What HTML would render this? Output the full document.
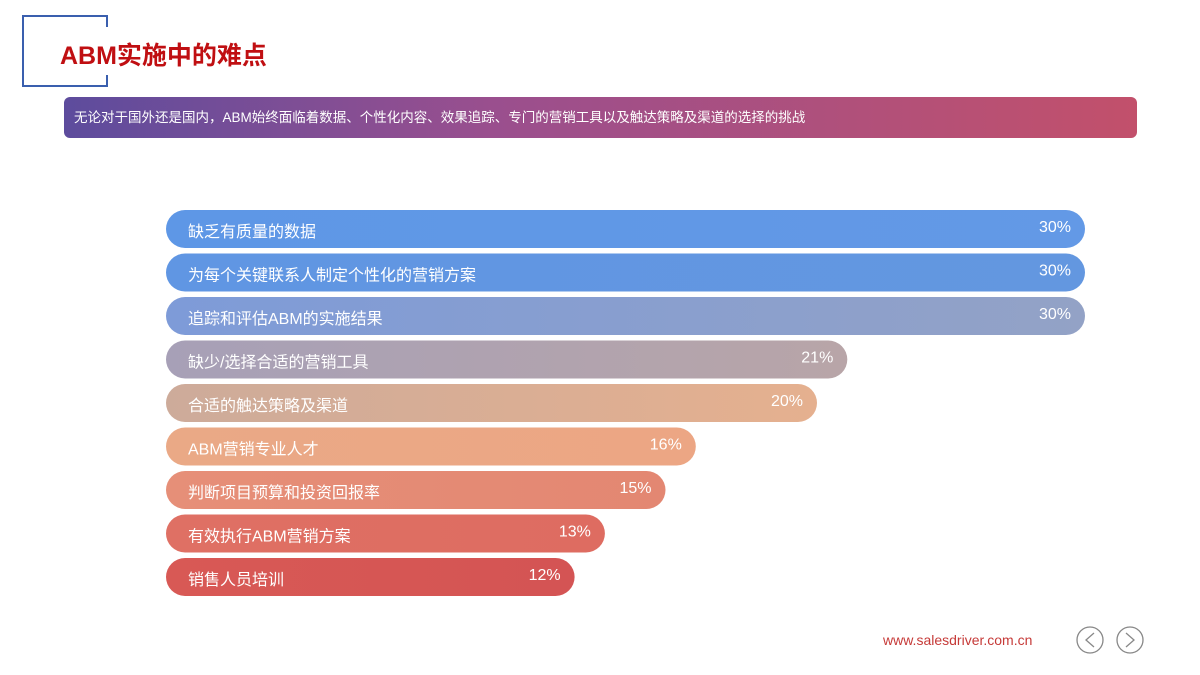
<!DOCTYPE html>
<html><head><meta charset="utf-8">
<style>
body{margin:0;width:1200px;height:675px;background:#fff;overflow:hidden;position:relative;font-family:"Liberation Sans","Noto Sans CJK SC",sans-serif;}
.frame{position:absolute;left:22px;top:15px;width:82px;height:68px;border:2px solid #3a5fae;border-right:none;}
.frame:before{content:"";position:absolute;right:-2px;top:-2px;width:2px;height:12px;background:#3a5fae;}
.frame:after{content:"";position:absolute;right:-2px;bottom:-2px;width:2px;height:12px;background:#3a5fae;}
.title{position:absolute;left:60px;top:36px;font-size:25px;font-weight:bold;color:#c00f12;}
.banner{position:absolute;left:64px;top:97px;width:1073px;height:41px;border-radius:6px;background:linear-gradient(90deg,#5d4c9d,#9a4f8e 40%,#c2506b);color:#fff;font-size:13.5px;line-height:41px;padding-left:10px;box-sizing:border-box;}
.url{position:absolute;left:883px;top:632px;font-size:14px;color:#c63a38;}
</style></head><body>
<div class="frame"></div>
<div class="title">ABM实施中的难点</div>
<div class="banner">无论对于国外还是国内，ABM始终面临着数据、个性化内容、效果追踪、专门的营销工具以及触达策略及渠道的选择的挑战</div>
<svg id="chart" width="1200" height="675" style="position:absolute;left:0;top:0"></svg>
<div class="url">www.salesdriver.com.cn</div>
<svg width="90" height="34" style="position:absolute;left:1073px;top:623px">
<g><circle cx="17" cy="17" r="13" fill="none" stroke="#888" stroke-width="1.3"/><polyline points="21,10 13,17 21,24" fill="none" stroke="#888" stroke-width="1.3"/></g>
<g><circle cx="57" cy="17" r="13" fill="none" stroke="#888" stroke-width="1.3"/><polyline points="53,10 61,17 53,24" fill="none" stroke="#888" stroke-width="1.3"/></g>
</svg>
<script>
const categories=["缺乏有质量的数据","为每个关键联系人制定个性化的营销方案","追踪和评估ABM的实施结果","缺少/选择合适的营销工具","合适的触达策略及渠道","ABM营销专业人才","判断项目预算和投资回报率","有效执行ABM营销方案","销售人员培训"];
const values=[30,30,30,21,20,16,15,13,12];
const labels=["30%","30%","30%","21%","20%","16%","15%","13%","12%"];
const colorsA=["#5e97e6","#6096e3","#7e9bd8","#a7a0b7","#cdab9a","#eaa986","#e68f78","#df7064","#d85955"];
const colorsB=["#6399e6","#6397e0","#93a2c6","#b8a5a8","#e5b08f","#eca684","#e38772","#de6c61","#d45454"];
const ns="http://www.w3.org/2000/svg";
const svg=document.getElementById('chart');
const x0=166, h=38;
function xw(v){return Math.min(919,45+30.3*v);}
function yc(i){return 229+i*43.5;}
const defs=document.createElementNS(ns,'defs');svg.appendChild(defs);
values.forEach((v,i)=>{
  const g=document.createElementNS(ns,'linearGradient');g.setAttribute('id','g'+i);
  g.innerHTML='<stop offset="0" stop-color="'+colorsA[i]+'"/><stop offset="1" stop-color="'+colorsB[i]+'"/>';
  defs.appendChild(g);
  const w=xw(v), y=yc(i);
  const r=document.createElementNS(ns,'rect');
  
  
  r.setAttribute('x',x0);r.setAttribute('y',y-h/2);r.setAttribute('width',w);r.setAttribute('height',h);
  r.setAttribute('rx',h/2);r.setAttribute('fill','url(#g'+i+')');
  svg.appendChild(r);
  const t=document.createElementNS(ns,'text');
  
  
  t.setAttribute('x',188);t.setAttribute('y',y+8);t.setAttribute('fill','#fff');t.setAttribute('font-size','16');
  t.textContent=categories[i];svg.appendChild(t);
  const p=document.createElementNS(ns,'text');
  
  
  p.setAttribute('x',x0+w-14);p.setAttribute('y',y+3);p.setAttribute('fill','#fff');p.setAttribute('font-size','16');
  p.setAttribute('text-anchor','end');p.textContent=labels[i];svg.appendChild(p);
});
</script>
</body></html>
